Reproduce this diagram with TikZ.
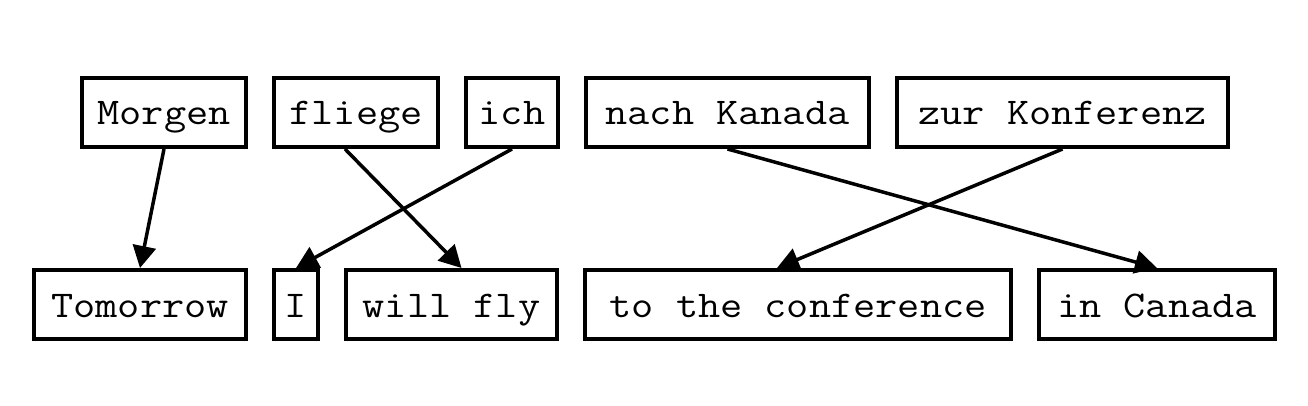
\documentclass[tikz,border=0pt]{standalone}
\usepackage{fontspec}
\setmonofont{Latin Modern Mono}[FakeStretch=1.14]
\usetikzlibrary{positioning, arrows.meta}

\begin{document}
\begin{tikzpicture}[node distance=0.48cm,>={Triangle[length=0.44cm,width=0.46cm]}]
\tikzset{box/.style={draw,line width=0.08cm,inner sep=0pt,minimum height=1.38cm,text height=0.6cm,text depth=0.1cm,font=\fontsize{21.5}{25}\selectfont\ttfamily}}
\tikzset{link/.style={->,line width=0.07cm}}
\useasboundingbox (0,0) rectangle (26.16,-8.12);
% German
\node[box,minimum width=3.28cm,anchor=north east] (morgen) at (4.96,-1.52) {Morgen};
\node[box,minimum width=3.28cm,right=of morgen] (fliege) {fliege};
\node[box,minimum width=1.84cm,right=of fliege] (ich) {ich};
\node[box,minimum width=5.66cm,right=of ich] (nach) {nach Kanada};
\node[box,minimum width=6.62cm,right=of nach] (zur) {zur Konferenz};
% English
\node[box,minimum width=4.24cm,below=2.38cm of morgen.south east,anchor=north east] (tomorrow) {Tomorrow};
\node[box,minimum width=0.88cm,right=of tomorrow] (i) {I};
\node[box,minimum width=4.22cm,right=of i] (willfly) {will fly};
\node[box,minimum width=8.52cm,right=of willfly] (conf) {to the conference};
\node[box,minimum width=4.72cm,right=of conf] (canada) {in Canada};

\draw[link] (morgen.south) -- (tomorrow.north);
\draw[link] ([xshift=-0.22cm]fliege.south) -- ([xshift=0.2cm]willfly.north);
\draw[link] (ich.south) -- (i.north);
\draw[link] (nach.south) -- (canada.north);
\draw[link] (zur.south) -- ([xshift=-0.42cm]conf.north);
\end{tikzpicture}
\end{document}
